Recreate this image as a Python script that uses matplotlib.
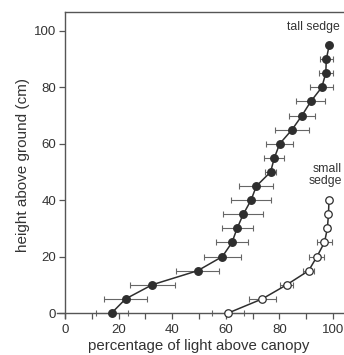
import matplotlib
matplotlib.use('Agg')
import matplotlib.pyplot as plt
from matplotlib.ticker import MultipleLocator

plt.rcParams['font.family'] = ['Liberation Sans', 'DejaVu Sans']

# heights (cm) and percentage of light
tall_height = [0, 5, 10, 15, 20, 25, 30, 35, 40, 45, 50, 55, 60, 65, 70, 75, 80, 85, 90, 95]
tall_light = [17.4, 22.6, 32.5, 49.5, 58.7, 62.3, 64.2, 66.5, 69.4, 71.4,
              76.7, 78.1, 80.1, 84.7, 88.4, 91.7, 95.8, 97.3, 97.5, 98.6]
tall_err = [6.0, 8.0, 8.4, 8.0, 6.8, 6.0, 5.8, 7.5, 7.3, 6.3,
            2.0, 3.7, 5.0, 6.4, 4.9, 5.4, 4.3, 2.7, 2.5, 0.0]

small_height = [0, 5, 10, 15, 20, 25, 30, 35, 40]
small_light = [60.9, 73.6, 82.7, 90.9, 94.0, 96.8, 97.9, 98.3, 98.5]
small_err = [6.0, 5.0, 2.3, 2.0, 2.8, 2.8, 0.8, 0.0, 0.0]

xticks_major = [0, 20, 40, 60, 80, 100]
yticks_major = [0, 20, 40, 60, 80, 100]

ink = '#2e2e2e'
axis_col = '#555555'
err_col = '#666666'
text_col = '#333333'

fig = plt.figure(figsize=(3.44, 3.55), dpi=100)
ax = fig.add_axes([0.1657, 0.104, 0.8343, 0.862])

xmax = 104.1
ax.set_xlim(-3, xmax)
ax.set_ylim(-1.8, 106.7)

# error bars
ax.errorbar(tall_light, tall_height, xerr=tall_err, fmt='none', ecolor=err_col,
            elinewidth=0.8, capsize=2.0, capthick=0.8, zorder=2)
ax.errorbar(small_light, small_height, xerr=small_err, fmt='none', ecolor=err_col,
            elinewidth=0.8, capsize=2.0, capthick=0.8, zorder=2)

# curves and points
ax.plot(tall_light, tall_height, color=ink, lw=1.1, zorder=3)
ax.plot(small_light, small_height, color=ink, lw=1.1, zorder=3)
ax.plot(tall_light, tall_height, 'o', ms=5.4, mfc=ink, mec=ink, zorder=4)
ax.plot(small_light, small_height, 'o', ms=5.4, mfc='white', mec=ink, mew=0.9, zorder=4)

ax.text(92.7, 101.5, 'tall sedge', ha='center', va='center', fontsize=8.8, color=text_col)
ax.text(103.3, 48.8, 'small\nsedge', ha='right', va='center', fontsize=8.8,
        color=text_col, linespacing=1.0)

# spines
ax.spines['right'].set_visible(False)
ax.spines['left'].set_position(('data', 0))
ax.spines['bottom'].set_position(('data', 0))
ax.spines['top'].set_bounds(0, xmax)
for s in ['left', 'bottom', 'top']:
    ax.spines[s].set_color(axis_col)
    ax.spines[s].set_linewidth(1.0)

ax.set_xticks(xticks_major)
ax.xaxis.set_minor_locator(MultipleLocator(10))
ax.set_yticks(yticks_major)
ax.tick_params(axis='both', which='both', direction='out', length=4.5, width=0.9,
               color=axis_col, labelsize=9.5, labelcolor=text_col, pad=2)
ax.tick_params(axis='x', which='both', pad=3.5)

ax.set_xlabel('percentage of light above canopy', fontsize=10.8, color=text_col)
ax.set_ylabel('height above ground (cm)', fontsize=11, color=text_col, labelpad=3)
ax.xaxis.set_label_coords((50 + 3) / (xmax + 3), -0.068)

fig.savefig('out.png', dpi=100)
